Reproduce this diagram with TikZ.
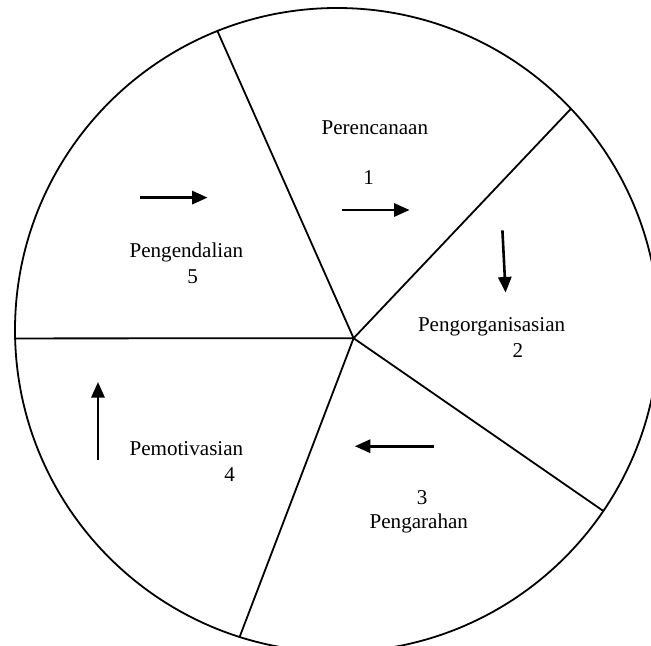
\documentclass[tikz,border=0pt]{standalone}
\usepackage{fontspec}
\setmainfont{Liberation Serif}
\usetikzlibrary{calc,arrows.meta}

\tikzset{
	rim/.style={line width=0.045cm},
	spoke/.style={line width=0.045cm},
	flow/.style={line width=0.065cm, -{Triangle[length=0.39cm,width=0.33cm]}},
	lbl/.style={inner sep=0pt, font=\fontsize{15}{18}\selectfont}
}

\begin{document}
\begin{tikzpicture}
			%%%%% START %%%%%
			\useasboundingbox (0, 0) rectangle (16.275, 16.125);
			
			\coordinate (c) at (8.425, 7.875);
			\coordinate (hub) at (8.84, 7.67);
			\draw[rim] (c) circle (8.05);
			
			\coordinate (s1) at ($(c)+(111.8:8.05)$);
			\coordinate (s2) at ($(c)+(43.4:8.05)$);
			\coordinate (s3) at ($(c)+(-34.2:8.05)$);
			\coordinate (s4) at ($(c)+(252.4:8.05)$);
			\coordinate (s5) at ($(c)+(181.5:8.05)$);
			\foreach \s in {s1,s2,s3,s4,s5}
				\draw[spoke] (hub) -- (\s);
			
			% labels
			\node[lbl] (plan) at (9.37, 12.94) {Perencanaan};
			\node[lbl] (n1) at (9.215, 11.69) {1};
			\node[lbl] (org) at (12.29, 7.96) {Pengorganisasian};
			\node[lbl] (n2) at (12.95, 7.355) {2};
			\node[lbl] (n3) at (10.555, 3.675) {3};
			\node[lbl] (arah) at (10.47, 3.03) {Pengarahan};
			\node[lbl] (motiv) at (4.66, 4.9) {Pemotivasian};
			\node[lbl] (n4) at (5.74, 4.26) {4};
			\node[lbl] (kendali) at (4.66, 9.825) {Pengendalian};
			\node[lbl] (n5) at (4.815, 9.2) {5};
			
			% arrows
			\coordinate (a1) at (8.56, 10.875);
			\coordinate (b1) at (10.24, 10.875);
			\coordinate (a2) at (12.56, 10.365);
			\coordinate (b2) at (12.64, 8.81);
			\coordinate (a3) at (10.845, 4.97);
			\coordinate (b3) at (8.87, 4.97);
			\coordinate (a4) at (2.45, 4.625);
			\coordinate (b4) at (2.45, 6.575);
			\coordinate (a5) at (3.51, 11.185);
			\coordinate (b5) at (5.19, 11.185);
			\foreach \i in {1,...,5}
				\draw[flow] (a\i) -- (b\i);
			
			%%%%% END %%%%%
		\end{tikzpicture}
\end{document}
